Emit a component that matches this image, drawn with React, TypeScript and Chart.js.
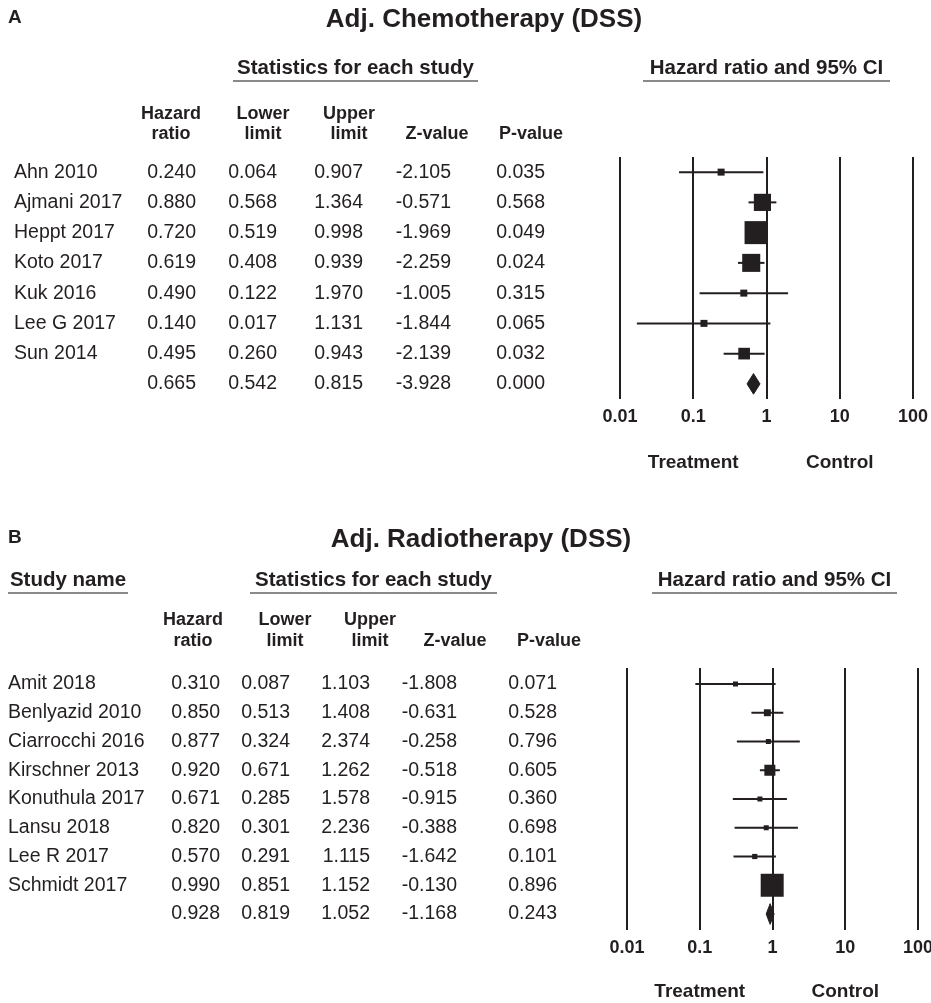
import React, { useEffect, useRef } from 'react';
import { Chart, registerables } from 'chart.js';

Chart.register(...registerables);

const FONT = "'Liberation Sans', Arial, Helvetica, sans-serif";
const INK = '#231f20';
const RULE = '#8a8a8a';
const AXIS_H = 40;

// ---------- Panel A: Adj. Chemotherapy (DSS) ----------
const studiesA = ['Ahn 2010', 'Ajmani 2017', 'Heppt 2017', 'Koto 2017', 'Kuk 2016', 'Lee G 2017', 'Sun 2014'];
const hazardA = [0.240, 0.880, 0.720, 0.619, 0.490, 0.140, 0.495];
const lowerA = [0.064, 0.568, 0.519, 0.408, 0.122, 0.017, 0.260];
const upperA = [0.907, 1.364, 0.998, 0.939, 1.970, 1.131, 0.943];
const zA = [-2.105, -0.571, -1.969, -2.259, -1.005, -1.844, -2.139];
const pA = [0.035, 0.568, 0.049, 0.024, 0.315, 0.065, 0.032];
const weightA = [2.4, 21.7, 38.9, 23.9, 2.2, 0.9, 10.0]; // relative weight (%)
const summaryA = [0.665, 0.542, 0.815, -3.928, 0.000]; // HR, lower, upper, Z, P

// ---------- Panel B: Adj. Radiotherapy (DSS) ----------
const studiesB = ['Amit 2018', 'Benlyazid 2010', 'Ciarrocchi 2016', 'Kirschner 2013', 'Konuthula 2017', 'Lansu 2018', 'Lee R 2017', 'Schmidt 2017'];
const hazardB = [0.310, 0.850, 0.877, 0.920, 0.671, 0.820, 0.570, 0.990];
const lowerB = [0.087, 0.513, 0.324, 0.671, 0.285, 0.301, 0.291, 0.851];
const upperB = [1.103, 1.408, 2.374, 1.262, 1.578, 2.236, 1.115, 1.152];
const zB = [-1.808, -0.631, -0.258, -0.518, -0.915, -0.388, -1.642, -0.130];
const pB = [0.071, 0.528, 0.796, 0.605, 0.360, 0.698, 0.101, 0.896];
const weightB = [1.0, 6.2, 1.6, 15.7, 2.1, 1.6, 3.5, 68.4]; // relative weight (%)
const summaryB = [0.928, 0.819, 1.052, -1.168, 0.243];

// ---------- shared labels ----------
const tickValues = [0.01, 0.1, 1, 10, 100];
const tickLabels = ['0.01', '0.1', '1', '10', '100'];
const sideValues = [0.1, 10];
const sideLabels = ['Treatment', 'Control'];
const columnHeads = [['Hazard', 'ratio'], ['Lower', 'limit'], ['Upper', 'limit'], ['', 'Z-value'], ['', 'P-value']];
const groupHeadsA = ['Statistics for each study', 'Hazard ratio and 95% CI'];
const groupHeadsB = ['Study name', 'Statistics for each study', 'Hazard ratio and 95% CI'];

const cfgA = {
  top: 0, height: 500,
  letter: 'A', letterPos: [8, 18],
  title: 'Adj. Chemotherapy (DSS)', titlePos: [484, 20],
  groups: [
    { text: groupHeadsA[0], u: [233, 478] },
    { text: groupHeadsA[1], u: [643, 890] },
  ],
  groupY: 68, ruleY: 81,
  colCx: [171, 263, 349, 437, 531], colY: [114, 134],
  dataRight: [196, 277, 363, 451, 545], nameX: 14,
  names: studiesA, hazard: hazardA, lower: lowerA, upper: upperA, z: zA, p: pA, weights: weightA, summary: summaryA,
  area: { left: 620, right: 913, top: 157, bottom: 399 }, yPad: 0.5,
  minBox: 7, maxBox: 23, dh: 0.34, tickPad: 7, sideY: 463,
};

const cfgB = {
  top: 500, height: 503,
  letter: 'B', letterPos: [8, 538],
  title: 'Adj. Radiotherapy (DSS)', titlePos: [481, 540],
  groups: [
    { text: groupHeadsB[0], u: [8, 128] },
    { text: groupHeadsB[1], u: [250, 497] },
    { text: groupHeadsB[2], u: [652, 897] },
  ],
  groupY: 580, ruleY: 593,
  colCx: [193, 285, 370, 455, 549], colY: [620, 641],
  dataRight: [220, 290, 370, 457, 557], nameX: 8,
  names: studiesB, hazard: hazardB, lower: lowerB, upper: upperB, z: zB, p: pB, weights: weightB, summary: summaryB,
  area: { left: 627, right: 918, top: 668, bottom: 930 }, yPad: 0.556,
  minBox: 5, maxBox: 23, dh: 0.36, tickPad: 7, sideY: 992,
};

function makeTablePlugin(c: any) {
  return {
    id: 'forestTable',
    afterDraw(chart: any) {
      const ctx = chart.ctx;
      const Y = (y: number) => y - c.top;
      const ys = chart.scales.y;
      const xs = chart.scales.x;
      ctx.save();
      ctx.fillStyle = INK;
      ctx.textBaseline = 'middle';

      ctx.font = `bold 19px ${FONT}`;
      ctx.textAlign = 'left';
      ctx.fillText(c.letter, c.letterPos[0], Y(c.letterPos[1]));

      ctx.font = `bold 26px ${FONT}`;
      ctx.textAlign = 'center';
      ctx.fillText(c.title, c.titlePos[0], Y(c.titlePos[1]));

      ctx.font = `bold 20.5px ${FONT}`;
      c.groups.forEach((g: any) => {
        ctx.textAlign = 'center';
        ctx.fillText(g.text, (g.u[0] + g.u[1]) / 2, Y(c.groupY));
        ctx.strokeStyle = RULE;
        ctx.lineWidth = 2;
        ctx.beginPath();
        ctx.moveTo(g.u[0], Y(c.ruleY));
        ctx.lineTo(g.u[1], Y(c.ruleY));
        ctx.stroke();
      });

      ctx.font = `bold 18px ${FONT}`;
      ctx.textAlign = 'center';
      columnHeads.forEach((h, i) => {
        if (h[0]) ctx.fillText(h[0], c.colCx[i], Y(c.colY[0]));
        ctx.fillText(h[1], c.colCx[i], Y(c.colY[1]));
      });

      ctx.font = `19.5px ${FONT}`;
      const n = c.names.length;
      for (let i = 0; i <= n; i++) {
        const y = ys.getPixelForValue(i);
        const vals = i < n ? [c.hazard[i], c.lower[i], c.upper[i], c.z[i], c.p[i]] : c.summary;
        if (i < n) {
          ctx.textAlign = 'left';
          ctx.fillText(c.names[i], c.nameX, y);
        }
        ctx.textAlign = 'right';
        vals.forEach((v: number, k: number) => ctx.fillText(v.toFixed(3), c.dataRight[k], y));
      }

      ctx.font = `bold 19px ${FONT}`;
      ctx.textAlign = 'center';
      sideLabels.forEach((s, i) => ctx.fillText(s, xs.getPixelForValue(sideValues[i]), Y(c.sideY)));
      ctx.restore();
    },
  };
}

function buildChart(canvas: HTMLCanvasElement, c: any) {
  const n = c.names.length;
  const wmax = Math.max(...c.weights);
  const datasets: any[] = c.names.map((_: string, i: number) => ({
    type: 'line',
    data: [{ x: c.lower[i], y: i }, { x: c.upper[i], y: i }],
    borderColor: INK, borderWidth: 2, pointRadius: 0, fill: false, tension: 0,
  }));
  datasets.push({
    type: 'scatter',
    data: c.hazard.map((v: number, i: number) => ({ x: v, y: i })),
    pointStyle: 'rect',
    pointRadius: c.weights.map((w: number) => Math.max(c.minBox, c.maxBox * Math.sqrt(w / wmax)) / Math.SQRT2),
    backgroundColor: INK, borderColor: INK, pointBorderWidth: 0, borderWidth: 0,
  });
  const [sh, sl, su] = c.summary;
  datasets.push({
    type: 'line',
    data: [{ x: sl, y: n }, { x: sh, y: n - c.dh }, { x: su, y: n }, { x: sh, y: n + c.dh }, { x: sl, y: n }],
    borderColor: INK, borderWidth: 1, backgroundColor: INK, fill: 'shape', pointRadius: 0, tension: 0,
  });
  const a = c.area;
  return new Chart(canvas, {
    type: 'scatter',
    data: { datasets },
    options: {
      animation: false,
      responsive: false,
      devicePixelRatio: 1,
      events: [],
      layout: {
        autoPadding: false,
        padding: {
          left: a.left, right: 931 - a.right, top: a.top - c.top,
          bottom: c.top + c.height - a.bottom - AXIS_H,
        },
      },
      plugins: { legend: { display: false }, tooltip: { enabled: false } },
      scales: {
        x: {
          type: 'logarithmic', min: 0.01, max: 100, position: 'bottom',
          afterBuildTicks: (s: any) => { s.ticks = tickValues.map((v) => ({ value: v })); },
          afterFit: (s: any) => {
            s.height = AXIS_H;
            s.paddingLeft = 0; s.paddingRight = 0; s.paddingTop = 0; s.paddingBottom = 0;
          },
          grid: { color: INK, lineWidth: 2, drawTicks: false, drawOnChartArea: true },
          border: { display: false },
          ticks: {
            callback: (_v: any, i: number) => tickLabels[i],
            font: { family: FONT, size: 18, weight: 'bold' }, color: INK,
            padding: c.tickPad, maxRotation: 0, autoSkip: false,
          },
        },
        y: { type: 'linear', min: -c.yPad, max: n + c.yPad, reverse: true, display: false },
      },
    } as any,
    plugins: [makeTablePlugin(c)],
  } as any);
}

function Panel({ cfg }: { cfg: any }) {
  const ref = useRef<HTMLCanvasElement | null>(null);
  useEffect(() => {
    if (!ref.current) return;
    const ch = buildChart(ref.current, cfg);
    return () => ch.destroy();
  }, [cfg]);
  return (
    <canvas
      ref={ref}
      width={931}
      height={cfg.height}
      style={{ position: 'absolute', left: 0, top: cfg.top, width: 931, height: cfg.height }}
    />
  );
}

export default function App() {
  return (
    <div style={{ position: 'absolute', left: 0, top: 0, width: 931, height: 1003, background: '#fff', overflow: 'hidden' }}>
      <Panel cfg={cfgA} />
      <Panel cfg={cfgB} />
    </div>
  );
}
